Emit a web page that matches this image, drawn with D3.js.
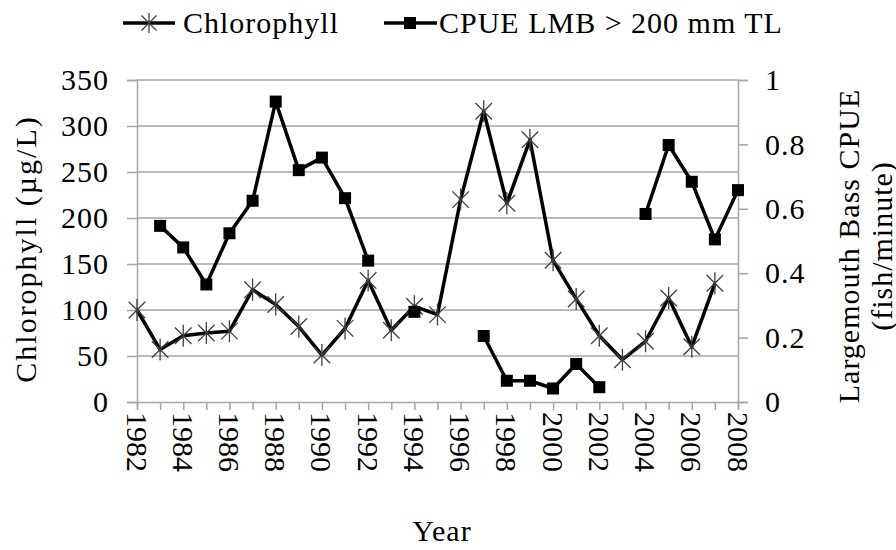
<!DOCTYPE html>
<html>
<head>
<meta charset="utf-8">
<script src="https://cdn.jsdelivr.net/npm/d3@7"></script>
<style>
  body { margin: 0; background: #fff; }
  svg text { font-family: "Liberation Serif", "DejaVu Serif", serif; fill: #000; letter-spacing: 1px; }
</style>
</head>
<body>
<svg id="chart" width="896" height="550"></svg>
<script>
// years on the x axis
var years = d3.range(1982, 2009);

// chlorophyll (ug/L), left axis; null = no sample
var chlorophyll = [100, 57, 72, 75, 77, 122, 106, 82, 51, 80, 132, 78, 104, 95,
                   220, 316, 216, 285, 154, 112, 72, 46, 66, 113, 60, 129, null];

// CPUE LMB > 200 mm TL (fish/minute), right axis
var cpue = [null, 0.547, 0.480, 0.365, 0.524, 0.625, 0.933, 0.720, 0.759, 0.633, 0.439, null, 0.280, null,
            null, 0.205, 0.066, 0.066, 0.042, 0.118, 0.046, null, 0.584, 0.798, 0.684, 0.505, 0.658];

var leftTicks = [0, 50, 100, 150, 200, 250, 300, 350];
var rightTicks = [0, 0.2, 0.4, 0.6, 0.8, 1];
var yearTicks = d3.range(1982, 2009, 2);

var fs = 30;

var margin = {top: 80, right: 158, bottom: 148, left: 137},
    width = 896 - margin.left - margin.right,
    height = 550 - margin.top - margin.bottom;

var svg = d3.select("#chart");
var g = svg.append("g").attr("transform", "translate(" + margin.left + "," + margin.top + ")");

var x = d3.scaleLinear().domain([1982, 2008]).range([0, width]);
var yL = d3.scaleLinear().domain([0, 350]).range([height, 0]);
var yR = d3.scaleLinear().domain([0, 1]).range([height, 0]);

var grey = "#a6a6a6";

/** horizontal gridlines from the left axis **/
g.append("g").selectAll("line").data(leftTicks.slice(1)).enter().append("line")
    .attr("x1", 0).attr("x2", width)
    .attr("y1", function (d) { return yL(d); })
    .attr("y2", function (d) { return yL(d); })
    .attr("stroke", grey).attr("stroke-width", 1.5);

/** axes **/
var axisL = g.append("g")
    .call(d3.axisLeft(yL).tickValues(leftTicks).tickSize(10).tickPadding(18));
var axisR = g.append("g").attr("transform", "translate(" + width + ",0)")
    .call(d3.axisRight(yR).tickValues(rightTicks).tickSize(10).tickPadding(17)
        .tickFormat(function (d) { return d3.format("")(d); }));
var axisX = g.append("g").attr("transform", "translate(0," + height + ")")
    .call(d3.axisBottom(x).ticks(26).tickSize(8).tickFormat(""));

[axisL, axisR, axisX].forEach(function (a) {
    a.attr("font-family", null);
    a.select(".domain").attr("stroke", grey).attr("stroke-width", 1.5);
    a.selectAll(".tick line").attr("stroke", grey).attr("stroke-width", 1.5);
    a.selectAll("text").attr("font-size", fs);
});

/** rotated year labels **/
g.append("g").selectAll("text").data(yearTicks).enter().append("text")
    .attr("transform", function (d) { return "translate(" + x(d) + "," + (height + 10) + ") rotate(90)"; })
    .attr("dy", "0.35em")
    .attr("font-size", fs)
    .style("letter-spacing", "0px")
    .text(function (d) { return d; });

/** series lines **/
var lineChl = d3.line()
    .defined(function (d, i) { return chlorophyll[i] !== null; })
    .x(function (d, i) { return x(years[i]); })
    .y(function (d, i) { return yL(chlorophyll[i]); });

var lineCpue = d3.line()
    .defined(function (d, i) { return cpue[i] !== null; })
    .x(function (d, i) { return x(years[i]); })
    .y(function (d, i) { return yR(cpue[i]); });

g.append("path").datum(years).attr("d", lineChl)
    .attr("fill", "none").attr("stroke", "#000").attr("stroke-width", 3.5)
    .attr("stroke-linejoin", "round");
g.append("path").datum(years).attr("d", lineCpue)
    .attr("fill", "none").attr("stroke", "#000").attr("stroke-width", 3.5)
    .attr("stroke-linejoin", "round");

/** asterisk marker: X plus a vertical bar **/
function star(sel, r) {
    var a = r * 0.75;
    sel.append("path")
        .attr("d", "M0," + (-r) + "V" + r +
                   "M" + (-a) + "," + (-a) + "L" + a + "," + a +
                   "M" + (-a) + "," + a + "L" + a + "," + (-a))
        .attr("stroke", "#404040").attr("stroke-width", 1.3).attr("fill", "none");
}

var chlPts = years.filter(function (d, i) { return chlorophyll[i] !== null; });
g.append("g").selectAll("g").data(chlPts).enter().append("g")
    .attr("transform", function (d) { return "translate(" + x(d) + "," + yL(chlorophyll[years.indexOf(d)]) + ")"; })
    .each(function () { star(d3.select(this), 11); });

var cpuePts = years.filter(function (d, i) { return cpue[i] !== null; });
var sq = 12;
g.append("g").selectAll("rect").data(cpuePts).enter().append("rect")
    .attr("x", function (d) { return x(d) - sq / 2; })
    .attr("y", function (d) { return yR(cpue[years.indexOf(d)]) - sq / 2; })
    .attr("width", sq).attr("height", sq).attr("fill", "#000");

/** axis titles **/
svg.append("text")
    .attr("transform", "translate(25,249) rotate(-90)")
    .attr("text-anchor", "middle").attr("dy", "0.35em").attr("font-size", fs)
    .style("letter-spacing", "2px")
    .text("Chlorophyll (\u00b5g/L)");

svg.append("text")
    .attr("transform", "translate(848,246) rotate(-90)")
    .attr("text-anchor", "middle").attr("dy", "0.35em").attr("font-size", fs)
    .text("Largemouth Bass CPUE");
svg.append("text")
    .attr("transform", "translate(881,246) rotate(-90)")
    .attr("text-anchor", "middle").attr("dy", "0.35em").attr("font-size", fs)
    .text("(fish/minute)");

svg.append("text")
    .attr("x", 442).attr("y", 541).attr("text-anchor", "middle").attr("font-size", fs)
    .text("Year");

/** legend **/
var legend = svg.append("g").attr("transform", "translate(0,23)");
var l1 = legend.append("g").attr("transform", "translate(123,0)");
l1.append("line").attr("x1", 0).attr("x2", 52).attr("stroke", "#000").attr("stroke-width", 3.5);
star(l1.append("g").attr("transform", "translate(26,0)"), 10);
l1.append("text").attr("x", 60).attr("y", 10).attr("font-size", fs).text("Chlorophyll");

var l2 = legend.append("g").attr("transform", "translate(384,0)");
l2.append("line").attr("x1", 0).attr("x2", 53).attr("stroke", "#000").attr("stroke-width", 3.5);
l2.append("rect").attr("x", 20).attr("y", -6).attr("width", 12).attr("height", 12).attr("fill", "#000");
l2.append("text").attr("x", 55).attr("y", 10).attr("font-size", fs).text("CPUE LMB > 200 mm TL");
</script>
</body>
</html>
